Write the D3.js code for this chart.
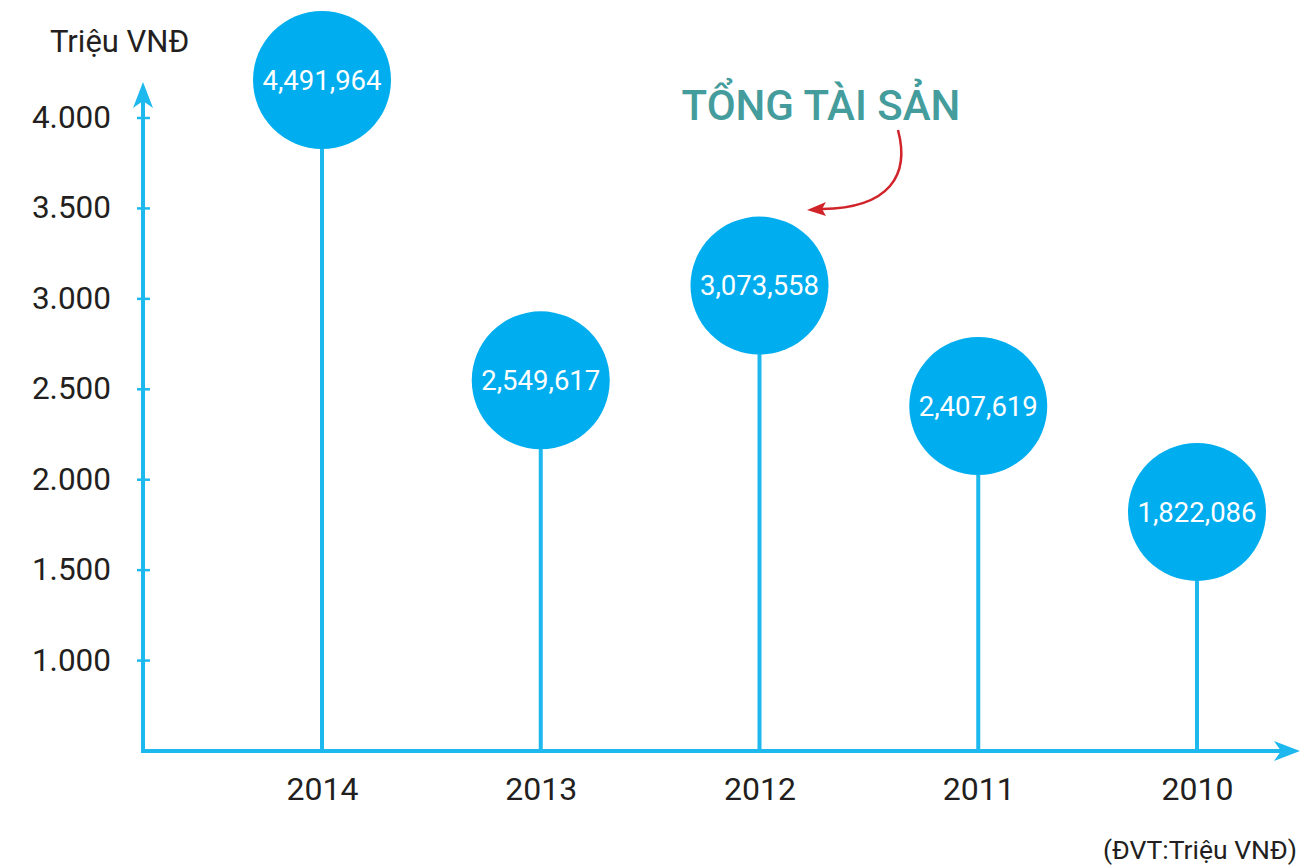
<!DOCTYPE html>
<html>
<head>
<meta charset="utf-8">
<script src="https://cdn.jsdelivr.net/npm/d3@7"></script>
<style>
  body { margin: 0; background: #fff; }
  svg text { font-family: Roboto, "Noto Sans", sans-serif; }
</style>
</head>
<body>
<div id="wrapper"></div>
<script>
// data
const years = ["2014", "2013", "2012", "2011", "2010"];
const totals = [4491964, 2549617, 3073558, 2407619, 1822086];
const yTicks = [1000, 1500, 2000, 2500, 3000, 3500, 4000];

const width = 1300, height = 865;
const axisColor = "#1db8ee";
const dotColor = "#00aeef";
const textColor = "#231f20";
const r = 69;

const svg = d3.select("#wrapper").append("svg")
  .attr("width", width)
  .attr("height", height)
  .style("display", "block");

// values are shown on the axis in thousands
const yScale = d3.scaleLinear()
  .domain([500, 4000])
  .range([751, 118]);

const xScale = d3.scalePoint()
  .domain(years)
  .range([322, 1197]);

const x0 = 143, yBase = 751;

// y axis ticks + labels
const yAxis = d3.axisLeft(yScale)
  .tickValues(yTicks)
  .tickSize(0)
  .tickFormat(d => d3.format(",")(d).replace(/,/g, "."));

const gy = svg.append("g")
  .attr("transform", `translate(${x0 - 32},0)`)
  .call(yAxis);
gy.select(".domain").remove();
gy.selectAll("text")
  .attr("fill", textColor)
  .style("font-size", "31.5px")
  .attr("x", 0)
  .attr("dy", "0.3em");

svg.selectAll(".ytick")
  .data(yTicks)
  .enter().append("line")
  .attr("class", "ytick")
  .attr("x1", x0 - 6).attr("x2", x0 + 7)
  .attr("y1", d => yScale(d)).attr("y2", d => yScale(d))
  .attr("stroke", axisColor)
  .attr("stroke-width", 2.5);

// stems
svg.selectAll(".stem")
  .data(years)
  .enter().append("line")
  .attr("class", "stem")
  .attr("x1", d => xScale(d)).attr("x2", d => xScale(d))
  .attr("y1", yBase)
  .attr("y2", (d, i) => Math.max(yScale(totals[i] / 1000), r + 11))
  .attr("stroke", axisColor)
  .attr("stroke-width", 4);

// axis lines with arrows
svg.append("line")
  .attr("x1", x0).attr("x2", x0)
  .attr("y1", yBase + 2).attr("y2", 100)
  .attr("stroke", axisColor).attr("stroke-width", 4);
svg.append("path")
  .attr("d", `M${x0},82 L${x0 + 10},108 L${x0},101 L${x0 - 10},108 Z`)
  .attr("fill", axisColor);

svg.append("line")
  .attr("x1", x0 - 2).attr("x2", 1282)
  .attr("y1", yBase).attr("y2", yBase)
  .attr("stroke", axisColor).attr("stroke-width", 4);
svg.append("path")
  .attr("d", `M1300,${yBase} L1274,${yBase - 10} L1281,${yBase} L1274,${yBase + 10} Z`)
  .attr("fill", axisColor);

// x labels
const xAxis = d3.axisBottom(xScale).tickSize(0);
const gx = svg.append("g")
  .attr("transform", `translate(0,${yBase + 26})`)
  .call(xAxis);
gx.select(".domain").remove();
gx.selectAll("text")
  .attr("fill", textColor)
  .style("font-size", "32px")
  .attr("dy", "0.71em")
  .attr("y", 0);

// bubbles
const dots = svg.selectAll(".dot")
  .data(years)
  .enter().append("g")
  .attr("class", "dot")
  .attr("transform", (d, i) => `translate(${xScale(d)},${Math.max(yScale(totals[i] / 1000), r + 11)})`);

dots.append("circle")
  .attr("r", r)
  .attr("fill", dotColor);

dots.append("text")
  .attr("text-anchor", "middle")
  .attr("dy", "0.35em")
  .attr("fill", "#fff")
  .style("font-size", "27.5px")
  .text((d, i) => d3.format(",")(totals[i]));

// unit labels
svg.append("text")
  .attr("x", 50).attr("y", 52)
  .attr("fill", textColor)
  .style("font-size", "31px")
  .text("Triệu VNĐ");

svg.append("text")
  .attr("x", 1297).attr("y", 859)
  .attr("text-anchor", "end")
  .attr("fill", textColor)
  .style("font-size", "26.5px")
  .text("(ĐVT:Triệu VNĐ)");

// title + arrow
svg.append("text")
  .attr("x", 821).attr("y", 120)
  .attr("text-anchor", "middle")
  .attr("fill", "#449d9c")
  .style("font-size", "42px")
  .style("font-weight", 500)
  .text("TỔNG TÀI SẢN");

svg.append("path")
  .attr("d", "M898,130 C910,175 890,208 822,209")
  .attr("fill", "none")
  .attr("stroke", "#d1232a")
  .attr("stroke-width", 2.5);
svg.append("path")
  .attr("d", "M807,210 L826,202 L822,209 L826,216 Z")
  .attr("fill", "#d1232a");
</script>
</body>
</html>
